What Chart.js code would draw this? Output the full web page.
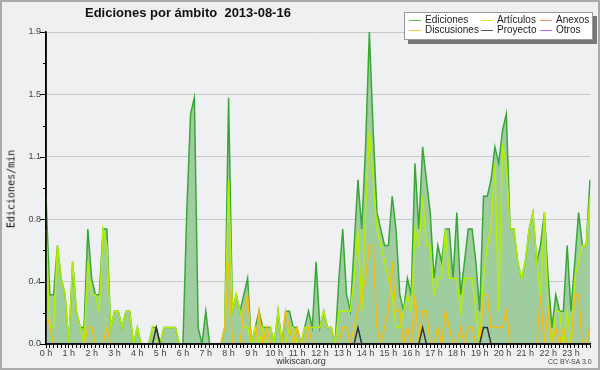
<!DOCTYPE html>
<html><head><meta charset="utf-8">
<script src="https://cdn.jsdelivr.net/npm/chart.js@4.4.0/dist/chart.umd.min.js"></script>
<style>
html,body{margin:0;padding:0;background:#eff0f2;}
#wrap{position:relative;width:600px;height:370px;overflow:hidden;background:#eff0f2;}
canvas{position:absolute;left:0;top:0;}
#frame{position:absolute;left:0;top:0;width:600px;height:370px;box-sizing:border-box;border:2px solid #aaaaaa;pointer-events:none;}
#title{position:absolute;left:85px;top:5px;font:bold 13px "Liberation Sans",Arial,sans-serif;line-height:15px;color:#111;white-space:pre;}
#legend{position:absolute;left:404px;top:12px;width:187px;height:26px;background:#fff;border:1px solid #9a9a9a;box-shadow:4px 4px 0 #777;}
.li{position:absolute;font:10px "Liberation Sans",Arial,sans-serif;line-height:10px;color:#222;white-space:nowrap;}
.sw{position:absolute;height:1px;width:12px;}
#ytitle{position:absolute;left:11px;top:189px;transform:translate(-50%,-50%) rotate(-90deg);font:10px "DejaVu Sans Mono",monospace;color:#111;white-space:nowrap;}
#site{position:absolute;left:301px;top:356px;transform:translateX(-50%);font:9px "Liberation Sans",Arial,sans-serif;line-height:10px;color:#333;}
#cc{position:absolute;left:548px;top:358px;font:7px "Liberation Sans",Arial,sans-serif;line-height:8px;color:#444;}
</style></head>
<body>
<div id="wrap">
<canvas id="c" width="600" height="370"></canvas>
<div id="title">Ediciones por ámbito  2013-08-16</div>
<div id="legend"></div>
<div id="ytitle">Ediciones/min</div>
<div id="site">wikiscan.org</div>
<div id="cc">CC BY-SA 3.0</div>
<div id="frame"></div>
</div>
<script>
// 10-minute slots over the day
const categories = [];
for (let h = 0; h < 24; h++) for (let m = 0; m < 60; m += 10) categories.push(h + ':' + String(m).padStart(2, '0'));

const seriesNames = ['Ediciones', 'Artículos', 'Anexos', 'Discusiones', 'Proyecto', 'Otros'];

const ediciones = [
0.9,0.3,0.3,0.6,0.4,0.3, 0,0.5,0.2,0.1,0.1,0.7, 0.4,0.3,0.3,0.7,0.7,0.1, 0.2,0.2,0.1,0.2,0.2,0,
0.1,0,0,0,0.1,0.1, 0,0.1,0.1,0.1,0.1,0, 0,0.8,1.4,1.5,0.1,0, 0.2,0,0,0,0,0.1,
1.5,0.2,0.3,0.2,0.3,0.4, 0,0.1,0.2,0.1,0.1,0.1, 0,0.2,0,0.2,0.2,0.1, 0.1,0,0.1,0.2,0.1,0.5,
0.1,0.2,0.1,0.1,0,0.4, 0.7,0.3,0.2,0.6,1.0,0.7, 1.2,1.9,1.3,0.8,0.7,0.6, 0.6,0.9,0.7,0.3,0.2,0.4,
0.3,1.1,0.7,1.2,1.0,0.8, 0.4,0.6,0.5,0.7,0.7,0.4, 0.8,0.3,0.5,0.7,0.7,0.5, 0.2,0.9,0.9,1.0,1.2,1.1,
1.3,1.4,0.7,0.7,0.5,0.4, 0.5,0.7,0.8,0.5,0.6,0.8, 0.4,0.1,0.3,0.2,0.2,0.6, 0.2,0.5,0.8,0.6,0.6,1.0
];
const articulos = [
0.7,0.1,0.1,0.6,0.4,0.3, 0,0.5,0.2,0.1,0,0.5, 0.3,0.3,0.2,0.7,0.6,0.1, 0.2,0.2,0.1,0.2,0.2,0,
0.1,0,0,0,0.1,0, 0,0.1,0.1,0.1,0.1,0, 0,0,0,0,0,0, 0,0,0,0,0,0.1,
1.0,0.2,0.3,0.2,0.1,0.1, 0,0.1,0,0.1,0,0.1, 0,0.2,0,0,0.1,0.1, 0,0,0.1,0.1,0.1,0.1,
0.1,0.2,0.1,0.1,0,0.2, 0.2,0.2,0.2,0.4,0.7,0.2, 0.8,1.3,1.0,0.7,0.6,0.5, 0.4,0.3,0.1,0.1,0.2,0.3,
0.2,0.7,0.6,0.9,0.6,0.6, 0.3,0.4,0.4,0.7,0.4,0.4, 0.4,0.2,0.4,0.4,0.4,0.2, 0,0.4,0.6,0.7,1.1,0.2,
1.2,1.1,0.7,0.7,0.5,0.4, 0.5,0.7,0.8,0.5,0.3,0.8, 0.2,0,0.2,0.2,0,0.2, 0,0.4,0.5,0.6,0.6,0.9
];
const discusiones = [
0.2,0.1,0,0,0,0, 0,0,0,0,0,0.1, 0.1,0,0,0,0.1,0, 0,0,0,0,0,0,
0,0,0,0,0,0, 0,0,0,0,0,0, 0,0,0,0,0,0, 0,0,0,0,0,0.1,
0.5,0,0,0,0.2,0.3, 0,0,0.2,0,0.1,0, 0,0,0,0.2,0.1,0, 0.1,0,0,0.1,0,0,
0,0,0,0,0,0, 0.1,0.1,0,0.1,0.2,0.3, 0.4,0.6,0.6,0.1,0,0.1, 0.2,0.5,0.2,0.2,0,0.1,
0,0.3,0,0.2,0.2,0, 0,0.1,0,0.2,0.1,0, 0,0.1,0,0.1,0.1,0, 0,0.3,0.3,0.1,0.1,0.1,
0.1,0.2,0,0,0,0, 0,0,0,0,0.3,0, 0.2,0,0.1,0,0.1,0, 0,0.3,0.3,0,0,0.1
];
const proyecto = [
0,0,0,0,0,0, 0,0,0,0,0,0, 0,0,0,0,0,0, 0,0,0,0,0,0,
0,0,0,0,0,0.1, 0,0,0,0,0,0, 0,0,0,0,0,0, 0,0,0,0,0,0,
0,0,0,0,0,0, 0,0,0,0,0,0, 0,0,0,0,0,0, 0,0,0,0,0,0,
0,0,0,0,0,0, 0,0,0,0,0.1,0, 0,0,0,0,0,0, 0,0,0,0,0,0,
0,0,0,0.1,0,0, 0,0,0,0,0,0, 0,0,0,0,0,0, 0,0.1,0.1,0,0,0,
0,0,0,0,0,0, 0,0,0,0,0,0, 0,0,0,0,0,0, 0,0,0,0,0,0
];
const anexos = [
0,0,0,0,0,0, 0,0,0,0,0,0, 0,0,0,0,0,0, 0,0,0,0,0,0,
0,0,0,0,0,0, 0,0,0,0,0,0, 0,0,0,0,0,0, 0,0,0,0,0,0,
0,0,0,0,0,0, 0,0,0,0,0,0, 0,0,0,0,0,0, 0,0,0,0,0,0,
0,0,0,0,0,0, 0,0,0,0,0,0, 0,0,0,0,0,0, 0,0,0,0,0,0,
0,0,0,0,0,0, 0,0,0,0,0,0, 0,0,0,0,0,0, 0,0,0,0,0,0,
0,0,0,0,0,0, 0,0,0,0,0,0, 0,0,0,0,0,0, 0,0,0,0,0,0
];
const otros = [
0,0,0,0,0,0, 0,0,0,0,0,0, 0,0,0,0,0,0, 0,0,0,0,0,0,
0,0,0,0,0,0, 0,0,0,0,0,0, 0,0,0,0,0,0, 0,0,0,0,0,0,
0,0,0,0,0,0, 0,0,0,0,0,0, 0,0,0,0,0,0, 0,0,0,0,0,0,
0,0,0,0,0,0, 0,0,0,0,0,0, 0,0,0,0,0,0, 0,0,0,0,0,0,
0,0,0,0,0,0, 0,0,0,0,0,0, 0,0,0,0,0,0, 0,0,0,0,0,0,
0,0,0,0,0,0, 0,0,0,0,0,0, 0,0,0,0,0,0, 0,0,0,0,0,0
];

const yTickValues = [0, 0.38, 0.76, 1.14, 1.52, 1.9];
const yTickLabels = ['0.0', '0.4', '0.8', '1.1', '1.5', '1.9'];
const xHourLabels = ['0 h','1 h','2 h','3 h','4 h','5 h','6 h','7 h','8 h','9 h','10 h','11 h','12 h','13 h','14 h','15 h','16 h','17 h','18 h','19 h','20 h','21 h','22 h','23 h'];

const colors = {
  'Ediciones': '#37a837', 'Artículos': '#b4ee00', 'Anexos': '#ff7040',
  'Discusiones': '#f6bd12', 'Proyecto': '#333333', 'Otros': '#9a44ff'
};
const seriesData = {
  'Ediciones': ediciones, 'Artículos': articulos, 'Anexos': anexos,
  'Discusiones': discusiones, 'Proyecto': proyecto, 'Otros': otros
};
const drawOrder = {'Ediciones': 6, 'Artículos': 5, 'Discusiones': 4, 'Anexos': 3, 'Otros': 2, 'Proyecto': 1};

// y ticks: majors + midpoints (minor marks)
const yAllTicks = [];
yTickValues.forEach((v, i) => {
  yAllTicks.push(v);
  if (i < yTickValues.length - 1) yAllTicks.push((v + yTickValues[i + 1]) / 2);
});
function yMajorIndex(v) {
  for (let k = 0; k < yTickValues.length; k++) if (Math.abs(yTickValues[k] - v) < 1e-9) return k;
  return -1;
}

const axisPlugin = {
  id: 'axisPlugin',
  afterDatasetsDraw(chart) {
    const {ctx, chartArea: a, scales: {y}} = chart;
    ctx.save();
    ctx.strokeStyle = '#000';
    ctx.lineWidth = 1.5;
    ctx.beginPath();
    ctx.moveTo(a.left, a.top);
    ctx.lineTo(a.left, a.bottom);
    ctx.lineTo(a.right, a.bottom);
    ctx.stroke();
    ctx.lineWidth = 1;
    y.ticks.forEach(t => {
      const py = Math.round(y.getPixelForValue(t.value)) + 0.5;
      const len = yMajorIndex(t.value) >= 0 ? 6 : 3;
      ctx.beginPath();
      ctx.moveTo(a.left - len, py);
      ctx.lineTo(a.left, py);
      ctx.stroke();
    });
    ctx.restore();
  }
};

const datasets = seriesNames.map(name => {
  const ds = {
    label: name,
    data: seriesData[name],
    borderColor: colors[name],
    borderWidth: 1.5,
    pointRadius: 0,
    tension: 0,
    fill: false,
    order: drawOrder[name]
  };
  if (name === 'Ediciones') {
    ds.fill = 'origin';
    ds.backgroundColor = 'rgb(160,205,160)';
  }
  return ds;
});

const chart = new Chart(document.getElementById('c'), {
  type: 'line',
  data: {labels: categories, datasets},
  options: {
    responsive: false,
    animation: false,
    devicePixelRatio: 1,
    layout: {padding: {top: 32, right: 10, left: 0, bottom: 0}},
    plugins: {legend: {display: false}, tooltip: {enabled: false}, title: {display: false}},
    scales: {
      x: {
        type: 'category',
        offset: false,
        grid: {drawOnChartArea: false, tickLength: 4, tickColor: '#000', tickWidth: 1, offset: false},
        border: {color: '#000', width: 1.5},
        ticks: {
          autoSkip: false, maxRotation: 0, minRotation: 0, padding: 0,
          font: {family: 'Liberation Sans', size: 9}, color: '#444',
          callback: (v, i) => (i % 6 === 0 ? xHourLabels[i / 6] : '')
        },
        afterFit: s => { s.height = 26; }
      },
      y: {
        min: 0, max: 1.9,
        afterBuildTicks: s => { s.ticks = yAllTicks.map(v => ({value: v})); },
        grid: {
          drawTicks: false,
          color: c => (c.tick && yMajorIndex(c.tick.value) > 0 ? '#c9c9c9' : 'rgba(0,0,0,0)'),
          lineWidth: 1
        },
        border: {color: '#000', width: 1.5},
        ticks: {
          padding: 5,
          font: {family: 'Liberation Sans', size: 9}, color: '#444',
          callback: v => { const k = yMajorIndex(v); return k >= 0 ? yTickLabels[k] : ''; }
        },
        afterFit: s => { s.width = 46; }
      }
    }
  },
  plugins: [axisPlugin]
});

// legend (3 columns x 2 rows, column-major like the original)
const legendLayout = [
  ['Ediciones', 4, 7], ['Discusiones', 4, 17],
  ['Artículos', 76, 7], ['Proyecto', 76, 17],
  ['Anexos', 135, 7], ['Otros', 135, 17]
];
const leg = document.getElementById('legend');
legendLayout.forEach(([name, lx, ly]) => {
  const ds = chart.data.datasets.find(d => d.label === name);
  const sw = document.createElement('div');
  sw.className = 'sw';
  sw.style.left = lx + 'px';
  sw.style.top = ly + 'px';
  sw.style.background = ds.borderColor;
  sw.style.opacity = '0.8';
  leg.appendChild(sw);
  const t = document.createElement('div');
  t.className = 'li';
  t.style.left = (lx + 16) + 'px';
  t.style.top = (ly - 5) + 'px';
  t.textContent = name;
  leg.appendChild(t);
});
</script>
</body></html>
